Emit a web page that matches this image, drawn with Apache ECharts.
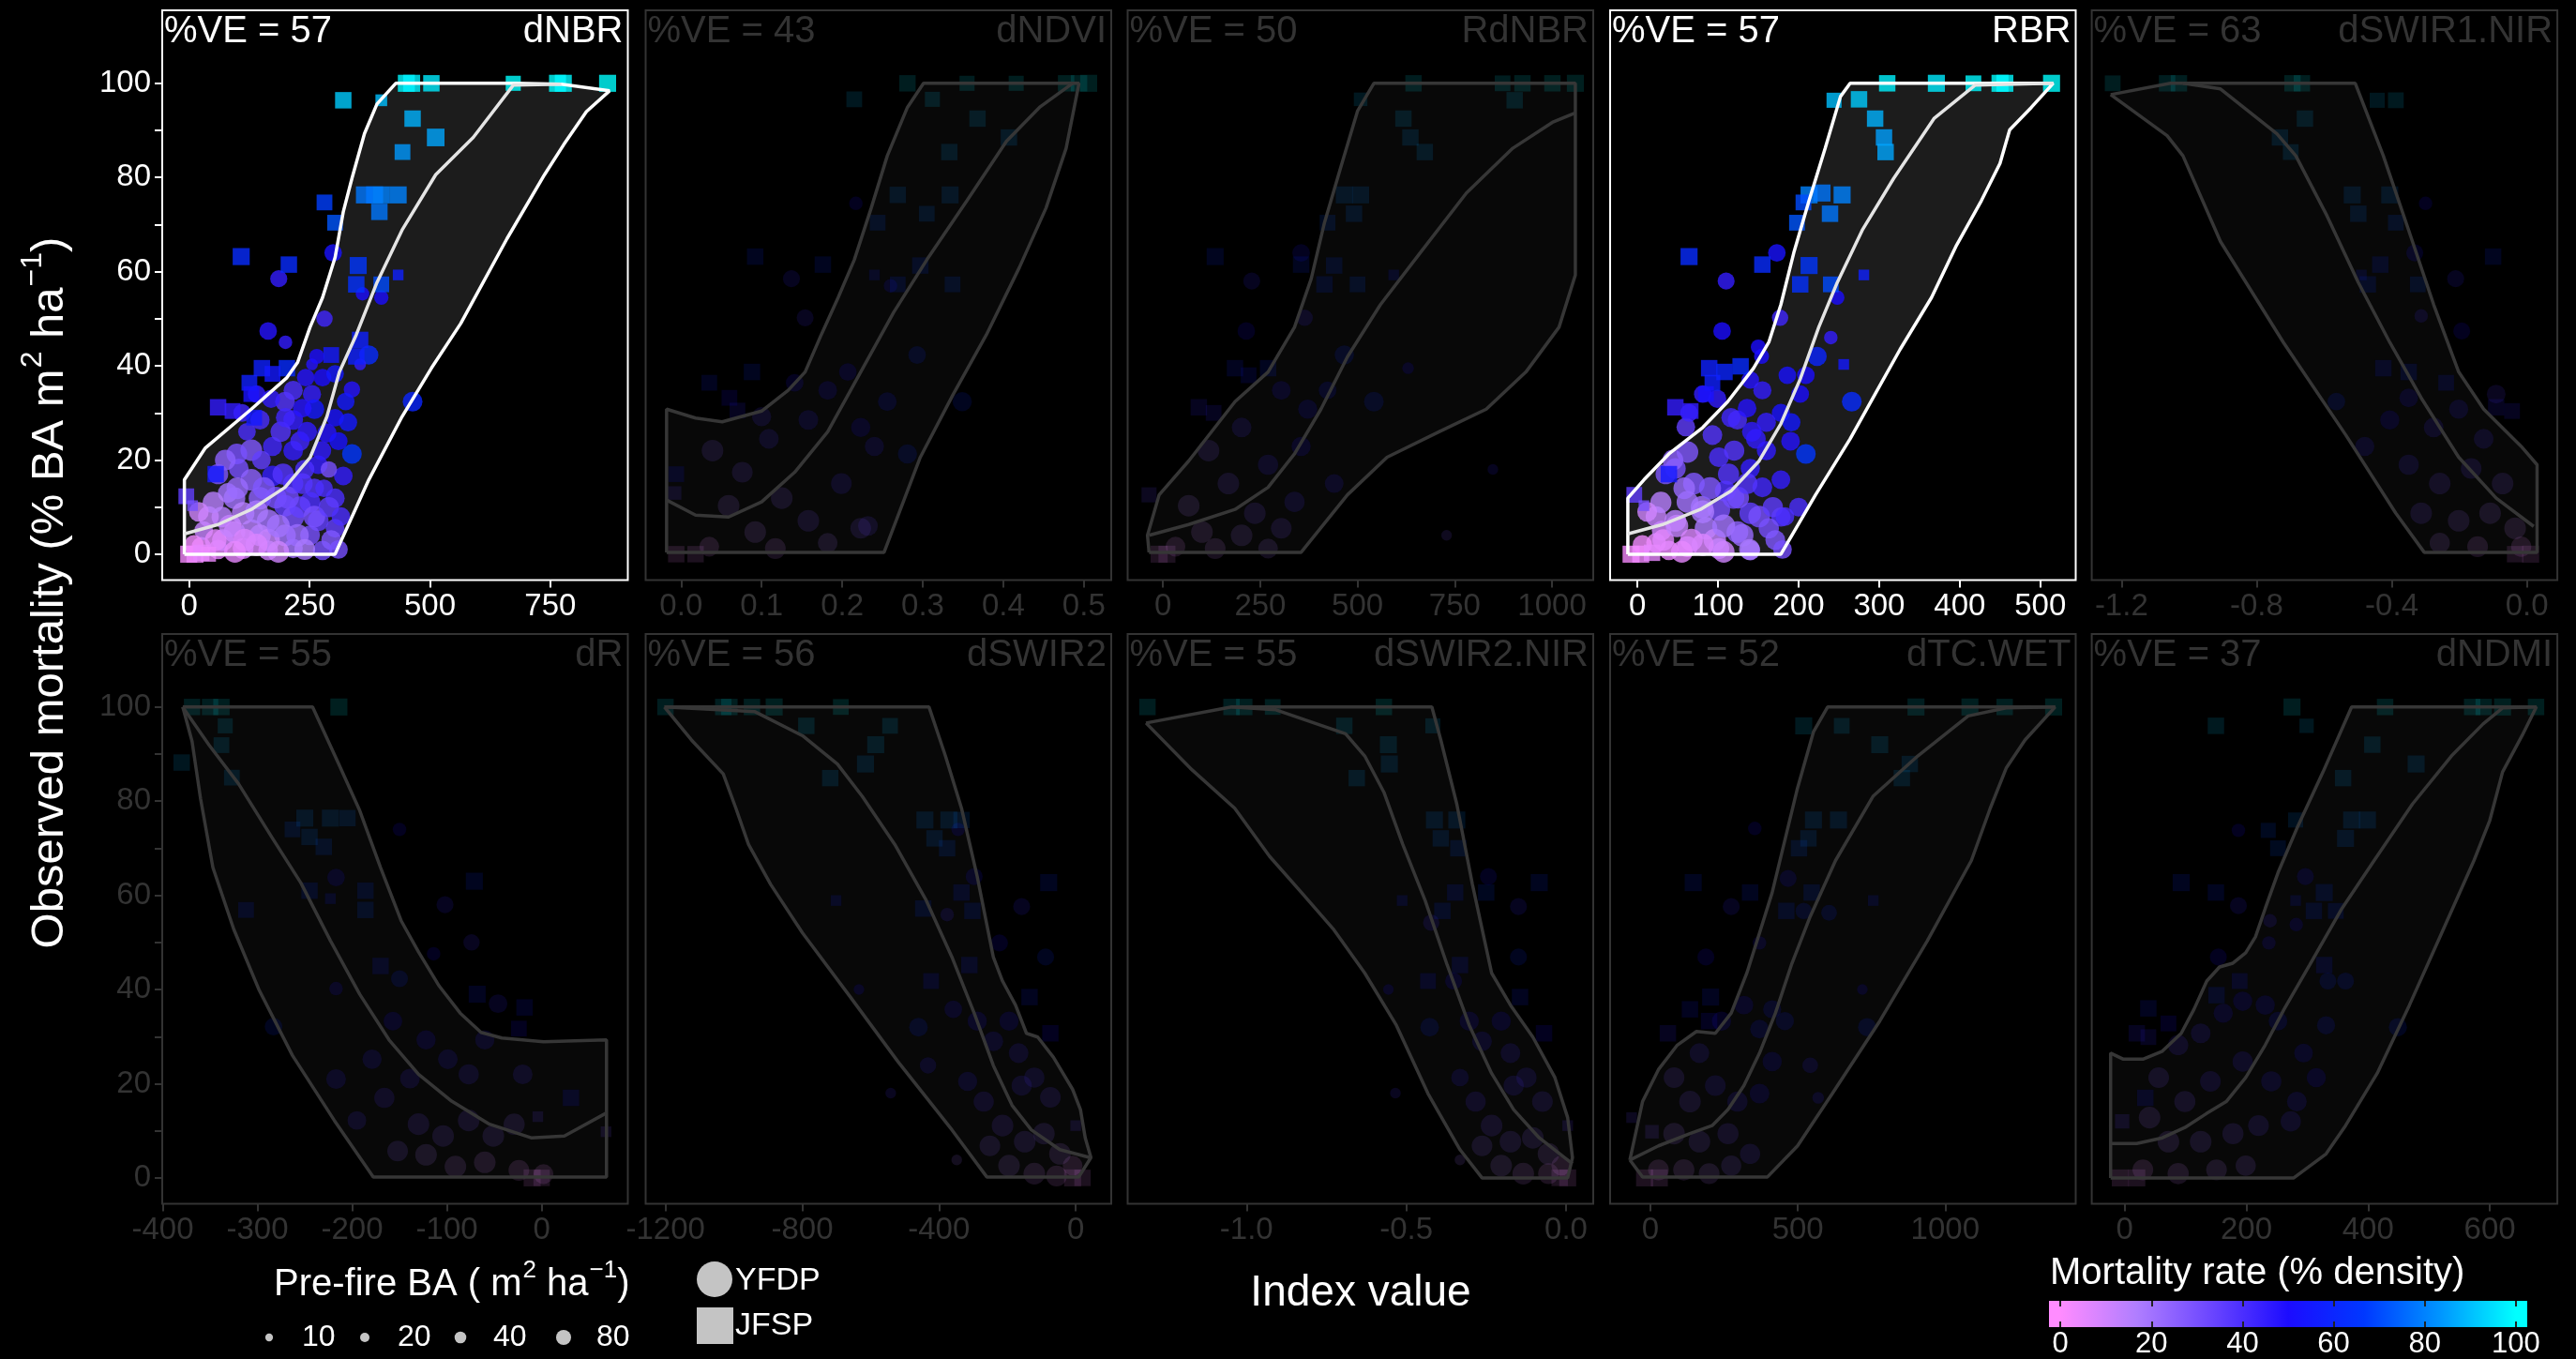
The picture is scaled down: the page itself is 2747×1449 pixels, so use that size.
<!DOCTYPE html>
<html><head><meta charset="utf-8">
<script src="https://cdn.jsdelivr.net/npm/echarts@6/dist/echarts.min.js"></script>
<style>html,body{margin:0;padding:0;background:#000;}#c{width:2747px;height:1449px;}</style>
</head><body><div id="c"></div><script>
// ---------------- DATA ----------------
const indexNames = ['dNBR','dNDVI','RdNBR','RBR','dSWIR1.NIR','dR','dSWIR2','dSWIR2.NIR','dTC.WET','dNDMI'];
const veValues = [57,43,50,57,63,55,56,55,52,37];
const highlighted = ['dNBR','RBR'];
const xRanges = [[-56,911],[-0.044,0.534],[-91,1106],[-34,544],[-1.288,0.090],[-400.5,91],[-1258,104],[-1.372,0.085],[-137,1443],[-54,711]];
const xTicks = [[0,250,500,750],[0,0.1,0.2,0.3,0.4,0.5],[0,250,500,750,1000],[0,100,200,300,400,500],[-1.2,-0.8,-0.4,0],[-400,-300,-200,-100,0],[-1200,-800,-400,0],[-1,-0.5,0],[0,500,1000],[0,200,400,600]];
const xDecimals = [0,1,0,0,1,0,0,1,0,0];
const yRange = [-5.5,115.5];
const yTicks = [0,10,20,30,40,50,60,70,80,90,100];
const yLabels = [0,20,40,60,80,100];
const sizeBreaks = [10,20,40,80];
const colorTicks = [0,20,40,60,80,100];
const colorRange = [0,100];
const palette = ['#ff8cff','#b07eff','#6a45ff','#1c0cff','#0038ff','#0095ff','#00ffff'];

// points: [index value, observed mortality %, mortality rate % density, pre-fire BA]
const dNBR_band = [[-10,0],[-10,15.8],[33,22.5],[129,30.8],[203,37.5],[225,40.7],[251,48.2],[277,54.5],[303,63],[320,72.7],[338,79.8],[364,89.3],[390,95.6],[429,100],[677,100],[773,99.8],[873,98.4],[825,94],[778,87],[738,80.6],[660,67],[564,49],[503,39.5],[442,29.2],[373,15.8],[303,0]];
const dNBR_fit = [[-10,4.3],[60,6.3],[129,9.5],[199,14.2],[251,20.5],[286,29.2],[312,38.7],[347,46.6],[390,57.7],[442,68.8],[512,80.6],[590,88.5],[673,99.6],[773,99.8]];
const dNBR_jfsp = [[451,100,99,110],[462,100,98,110],[503,100,97,100],[673,100,100,80],[765,100,100,110],[777,100,99,110],[869,100,100,110],[320,96.4,92,100],[399,96.4,90,40],[464,92.5,88,100],[512,88.5,86,120],[443,85.4,84,90],[364,76.3,78,110],[385,76.3,78,110],[399,76.3,80,110],[434,76.3,80,110],[395,72.7,78,100],[281,74.7,68,90],[303,70.4,72,90],[108,63.2,62,110],[207,61.5,62,100],[351,61.3,66,110],[347,57.3,64,100],[399,57.3,70,90],[434,59.3,58,30],[355,45.5,58,100],[347,42,58,100],[295,42.3,55,90],[151,39.5,58,100],[203,39.5,62,100],[173,38.3,55,90],[125,36.4,58,90],[60,31.2,45,100],[90,30.4,45,90],[129,34,52,90],[135,29,55,90],[55,17,55,100],[-6,12.3,35,90],[7,10.3,30,30],[-1,0,2,110],[12,0,3,110],[25,0.3,5,100],[40,0,4,80]];
const dNBR_yfdp = [[299,64,52,120],[186,58.5,45,110],[281,50,42,100],[164,47.4,48,120],[360,55.3,50,60],[399,54.5,50,70],[373,42.3,62,150],[355,40.3,45,40],[255,40.3,48,40],[464,32.4,60,160],[242,37.5,48,120],[277,37.5,50,120],[303,38.3,55,120],[216,34.8,40,150],[255,34,45,130],[338,35,48,100],[325,32.4,55,120],[199,32.4,38,160],[260,30.8,55,160],[303,29,52,120],[216,28.5,45,160],[147,28.5,40,150],[286,25.7,48,150],[338,21.3,66,160],[129,22.1,28,200],[99,21.3,30,180],[173,22.9,42,150],[216,22,45,160],[268,19,45,140],[320,16.6,45,140],[290,18,30,100],[103,18.2,30,160],[129,15.8,25,200],[173,16.6,45,180],[216,15,40,170],[260,14,38,150],[94,11.9,20,200],[147,11.9,25,220],[199,10.3,35,200],[251,11,40,180],[303,11.9,40,150],[68,7.9,15,180],[112,8.7,15,220],[164,7.1,20,220],[216,7.9,30,200],[268,7.1,35,180],[303,5.5,35,140],[94,4.7,10,200],[147,4,15,200],[199,4,20,200],[251,4,30,160],[25,1.6,5,150],[60,1,5,150],[112,1.2,8,180],[164,0.8,10,160],[216,1.2,20,150],[277,0.8,30,150],[30,5,12,140],[80,13,20,160],[190,26,38,170],[230,24,42,150],[240,18,40,150],[150,20,35,140],[120,26,40,120],[180,12,30,200],[230,10,35,200],[70,3,10,200],[130,5,15,220],[280,14,40,120],[310,24,52,130],[200,45,45,60],[40,8,12,180],[55,3,6,200],[85,6,12,220],[100,14,22,200],[115,3,8,220],[140,9,18,230],[155,14,28,210],[165,3,12,220],[185,6,20,230],[195,17,38,190],[205,12,32,210],[225,4,22,220],[235,15,38,180],[245,26,46,160],[260,8,30,200],[275,22,46,150],[290,10,36,170],[295,3,28,160],[315,8,40,140],[330,28,55,130],[200,29,42,150],[170,33,45,130],[235,31,48,140],[265,42,50,80],[140,34,45,120],[110,30,42,120],[75,20,25,180],[50,11,15,190],[20,9,10,160],[10,2,3,150],[95,0.5,5,200],[140,2,8,210],[185,0.5,10,200],[240,1,18,180],[310,1,30,140],[60,17,28,170]];

const dNDVI_band = [[-0.018,0.4],[-0.018,30.8],[0.018,28.9],[0.051,28.1],[0.1,30.4],[0.133,34.8],[0.154,38.7],[0.174,46.6],[0.195,54.5],[0.215,62.5],[0.236,73.5],[0.256,84.6],[0.281,94.9],[0.301,100],[0.494,100],[0.478,86.2],[0.453,73.5],[0.42,60.9],[0.379,46.6],[0.338,34],[0.297,20.6],[0.252,0.4]];
const dNDVI_fit = [[-0.018,11.5],[0.018,8.3],[0.059,7.9],[0.1,11.1],[0.141,17.4],[0.182,26],[0.223,38.7],[0.264,51.4],[0.305,62.5],[0.355,75.1],[0.404,87.7],[0.445,94.9],[0.486,100]];
const dNDVI_jfsp = [[0.281,100,98,100],[0.355,100,98,80],[0.416,100,99,80],[0.478,100,100,100],[0.494,100,99,100],[0.506,100,100,110],[0.215,96.6,90,90],[0.312,96.6,92,80],[0.368,92.5,88,100],[0.407,88.5,85,100],[0.333,85.4,86,100],[0.269,76.3,80,100],[0.334,76.3,80,110],[0.244,70.4,72,90],[0.305,72.3,78,90],[0.092,63.2,62,100],[0.176,61.5,62,100],[0.297,61.3,66,100],[0.337,57.3,70,90],[0.269,57.3,64,90],[0.24,59.3,58,30],[0.035,36.4,58,90],[0.088,38.7,60,100],[0.06,33.2,50,90],[0.07,30.5,45,90],[-0.006,17,55,90],[-0.008,13,35,60],[-0.006,0,2,100],[0.018,0,3,100]];
const dNDVI_yfdp = [[0.217,74.5,50,60],[0.137,58.5,45,110],[0.154,50.2,42,110],[0.293,42.3,62,120],[0.349,32.4,62,150],[0.26,57,52,60],[0.039,22,28,200],[0.076,17.4,30,180],[0.109,24.5,40,160],[0.158,28.5,45,160],[0.182,34.8,48,140],[0.223,26.9,50,150],[0.256,32.4,55,140],[0.24,22.9,45,150],[0.199,15,40,180],[0.125,11.9,25,200],[0.059,10.3,20,200],[0.158,7.1,30,200],[0.092,4.7,15,200],[0.223,5.5,30,180],[0.035,1.6,5,160],[0.117,1.2,10,180],[0.182,2.4,20,160],[0.232,6,35,160],[0.281,21.3,60,150],[0.207,38.7,50,120],[0.141,36.4,48,120],[0.1,29.2,40,150]];

const RdNBR_band = [[-36,0.4],[-40,4],[-10,12.6],[66,19.8],[185,32.4],[270,38.7],[338,48.2],[381,58.5],[415,70.4],[457,82.2],[500,94.1],[542,100],[1060,100],[1060,59.3],[1018,48.2],[933,38.7],[831,30.8],[712,26.1],[576,20.6],[474,12.6],[355,0.4]];
const RdNBR_fit = [[-36,4],[66,6.3],[185,9.5],[270,14.2],[338,21.3],[406,30.8],[474,41.9],[559,53],[661,64],[780,76.7],[899,86.2],[1001,91.7],[1060,93.7]];
const RdNBR_jfsp = [[644,100,98,100],[873,100,98,90],[924,100,99,100],[1001,100,100,100],[1060,100,100,110],[508,96.6,90,60],[904,96.4,92,100],[618,92.5,88,100],[636,88.5,85,100],[673,85.4,86,100],[466,76.3,80,110],[508,76.3,80,110],[491,72.3,78,100],[423,70.4,72,90],[134,63.2,62,110],[355,61.5,62,100],[440,61.3,66,100],[415,57.3,64,100],[500,57.3,70,90],[593,59.3,58,30],[185,39.5,58,100],[270,39.5,62,100],[220,38,55,90],[92,31.2,45,100],[130,30,45,90],[-36,12.6,35,80],[-10,0,2,110],[10,0,3,110]];
const RdNBR_yfdp = [[355,64,52,120],[228,58,45,110],[214,47.4,50,120],[364,50.2,42,100],[466,42.3,62,150],[542,32.4,62,160],[630,39.5,50,40],[848,18,45,30],[729,4,30,30],[117,22,28,200],[202,26.9,40,160],[304,34.8,48,140],[372,30.8,52,150],[270,19,42,170],[168,15,30,200],[355,22.9,48,150],[66,10.3,18,200],[236,8.7,30,200],[338,11.1,40,170],[100,4.7,12,200],[202,4,20,200],[304,5.5,30,180],[32,1.6,5,160],[134,1.2,10,180],[270,1.2,20,160],[440,15,45,140],[423,34.8,55,120]];

const RBR_band = [[-12,0],[-12,11.9],[8,15.8],[39,21.3],[81,26.9],[112,32.4],[144,39.5],[163,45],[178,53],[194,64],[213,75.1],[233,86.2],[252,97.2],[264,100],[516,100],[489,94.9],[462,90.1],[450,83],[427,75.1],[396,65.6],[365,54.5],[326,43.5],[295,34],[264,24.5],[221,12.6],[178,0]];
const RBR_fit = [[-12,4.3],[31,6.3],[78,9.5],[116,13.4],[151,19.8],[178,27.7],[202,37.2],[225,48.2],[248,57.7],[279,68.8],[318,79.8],[368,92.5],[419,99.6],[516,100]];
const RBR_jfsp = [[310,100,98,100],[371,100,97,110],[417,100,99,90],[450,100,100,110],[456,100,99,110],[514,100,100,110],[244,96.4,90,80],[275,96.6,92,100],[295,92.5,88,100],[306,88.5,85,100],[308,85.4,86,100],[213,76.3,80,110],[229,76.7,78,110],[254,76.3,80,110],[239,72.3,78,100],[198,70.4,72,90],[206,74.7,70,90],[64,63.2,62,110],[155,61.5,62,100],[213,61.3,66,110],[202,57.3,64,100],[240,57.3,70,90],[281,59.3,58,30],[256,40.3,55,30],[89,39.5,58,100],[108,38.7,60,100],[128,39.9,62,100],[93,36.4,58,90],[47,31.2,45,100],[66,30.4,45,90],[85,34,52,90],[39,17,55,100],[-4,12.6,35,90],[8,10.3,30,30],[-8,0,2,110],[4,0,3,110],[18,0.3,5,100]];
const RBR_yfdp = [[173,64,52,120],[110,58,45,110],[105,47.4,50,120],[177,50.2,42,100],[248,54.5,50,70],[223,42,60,150],[209,38,50,120],[266,32.4,62,160],[140,37,48,120],[155,34.8,45,130],[186,38,52,120],[202,34,50,120],[124,28.5,40,150],[178,30,52,130],[93,25.3,38,160],[147,24.5,45,160],[209,21.3,66,160],[62,21.7,28,200],[101,20.6,40,160],[140,18.2,45,150],[178,15.8,45,140],[47,18.2,30,180],[70,15,28,200],[109,13.4,40,180],[155,14.2,42,160],[62,11.1,20,200],[101,9.5,30,220],[140,8.7,35,200],[178,7.9,38,150],[47,7.1,15,200],[85,5.5,18,220],[124,4.7,25,200],[163,5.5,30,170],[23,2.4,5,160],[62,1.6,8,180],[101,1.2,12,180],[140,0.8,20,160],[39,0.8,4,150],[30,5,10,160],[120,22,38,170],[160,28,45,150],[190,24,48,140],[80,10,20,220],[125,12,30,200],[200,10,40,140],[60,27,35,140],[240,46,45,60],[150,44,50,80],[23,8,12,180],[32,3,6,200],[49,6,12,220],[58,14,22,200],[67,3,8,220],[81,9,18,230],[90,14,28,210],[96,3,12,220],[107,6,20,230],[113,17,38,190],[119,12,32,210],[130,4,22,220],[136,15,38,180],[142,26,46,160],[151,8,30,200],[160,22,46,150],[168,10,36,170],[171,3,28,160],[183,8,40,140],[191,28,55,130],[116,29,42,150],[99,33,45,130],[136,31,48,140],[154,42,50,80],[81,34,45,120],[64,30,42,120],[44,20,25,180],[29,11,15,190],[12,9,10,160],[6,2,3,150],[55,0.5,5,200],[81,2,8,210],[107,0.5,10,200],[139,1,18,180],[180,1,30,140],[35,17,28,170]];

const dSWIR1NIR_band = [[-1.232,97.6],[-1.055,100],[-0.508,100],[-0.425,84.6],[-0.35,68.8],[-0.276,53],[-0.202,38.7],[-0.128,30.8],[-0.017,22.9],[0.03,19],[0.03,0.4],[-0.304,0.4],[-0.388,8.7],[-0.536,25.3],[-0.721,45],[-0.907,66.4],[-1.018,84.6],[-1.065,88.9]];
const dSWIR1NIR_fit = [[-1.018,100],[-0.907,98.8],[-0.74,89.3],[-0.684,84.6],[-0.592,71.9],[-0.499,57.7],[-0.406,45],[-0.313,33.2],[-0.202,20.6],[-0.091,11.9],[0.02,5.9]];
const dSWIR1NIR_jfsp = [[-1.226,100,98,90],[-1.065,100,98,100],[-1.03,100,99,100],[-0.694,100,100,100],[-0.666,100,99,100],[-0.443,96.4,90,80],[-0.388,96.4,92,90],[-0.657,92.5,88,100],[-0.731,88.5,85,100],[-0.699,85.4,86,90],[-0.517,76.3,80,110],[-0.406,76.3,80,110],[-0.499,72.3,78,100],[-0.388,70.4,72,90],[-0.1,63.2,62,100],[-0.434,61.5,62,100],[-0.471,57.3,64,100],[-0.323,57.3,70,90],[-0.49,59.3,58,30],[-0.425,39.5,58,100],[-0.35,38.7,60,100],[-0.239,36.4,58,90],[-0.091,31.2,45,100],[-0.044,30.4,45,90],[0.011,0,2,110],[-0.035,0,3,100]];
const dSWIR1NIR_yfdp = [[-0.3,74.5,50,60],[-0.332,64,52,110],[-0.211,58.5,45,110],[-0.313,50.6,42,60],[-0.193,47.4,50,110],[-0.564,32.4,62,120],[-0.35,33.2,48,140],[-0.276,26.9,42,160],[-0.202,30.8,45,150],[-0.128,24.5,40,160],[-0.35,19,40,170],[-0.258,15,32,200],[-0.165,18.2,35,180],[-0.072,15,28,200],[-0.313,8.7,30,200],[-0.202,7.1,22,200],[-0.109,8.7,20,200],[-0.035,5.5,12,200],[-0.258,2.4,15,170],[-0.146,1.6,8,180],[-0.017,1.6,4,170],[-0.406,28.5,50,150],[-0.48,22.9,45,150],[-0.091,34,38,140]];

const dR_band = [[-378.8,100],[-241.8,100],[-214,87.8],[-192,78],[-170,65.9],[-148,54.5],[-130,48],[-108,40.7],[-86,35],[-64,30.9],[-42,29.7],[2,28.9],[68.5,29.3],[68.5,0.2],[-177.7,0.2],[-218.8,12.2],[-263,26],[-298,39.8],[-325,52.8],[-347,65.9],[-360,80.5],[-369,92.7]];
const dR_fit = [[-379,100],[-351,91.9],[-320,83.7],[-285,72.4],[-254,62.6],[-223,50.4],[-192,39],[-161,29.3],[-130,22],[-95,16.3],[-55,11.4],[-11,8.5],[24,8.9],[68.5,13.8]];
const dR_jfsp = [[-369,100,98,100],[-350,100,98,100],[-338,100,99,100],[-214,100,100,110],[-334,96,92,80],[-338,91.9,90,90],[-380,88.2,88,100],[-327,85,86,90],[-250,76.4,80,110],[-223,76.4,80,110],[-205,76.4,78,100],[-263,74,72,90],[-245,72.4,78,100],[-230,70.3,72,100],[-71,63,62,110],[-186,61,66,100],[-245,61,64,100],[-186,56.9,70,100],[-312,56.9,60,90],[-223,59.3,58,30],[-170,45,58,100],[-68,39,58,110],[-18,36.2,55,100],[-24,31.7,50,90],[31,17,55,100],[-4,13,35,30],[68,9.8,30,30],[-10,0,2,110],[0,0,3,100]];
const dR_yfdp = [[-150,74,50,60],[-217,63.8,52,120],[-102,58,45,110],[-74,50,42,100],[-114,47.6,50,60],[-150,42.3,60,110],[-217,40.2,48,60],[-283,32.1,62,120],[-217,21,45,160],[-195,12.2,40,140],[-20,22,40,160],[-46,37,45,140],[-166,17,38,170],[-139,21.1,42,160],[-122,29.3,48,150],[-99,25.2,45,160],[-77,22,40,170],[-60,29.3,45,150],[-130,11.4,32,200],[-104,8.9,28,200],[-77,12.2,30,200],[-51,8.9,25,200],[-29,11.4,25,190],[-122,4.9,18,200],[-91,2.4,12,200],[-60,3.3,10,200],[-24,1.6,5,180],[2,0.8,3,160],[-152,5.7,25,180],[-157,33.3,50,140],[-179,25.2,45,150]];

const dSWIR2_band = [[-1203,100],[-429,100],[-381,89.6],[-334,78.5],[-288,64],[-241,46.9],[-214,41.8],[-176,36.7],[-144,30.7],[-111,29.9],[-65,25.6],[-9,18.8],[14,14.5],[28,8.5],[44.6,4.3],[9,0.2],[-260,0.2],[-362,10.2],[-520,24.7],[-659,38.4],[-799,52],[-892,62.3],[-957,70.8],[-994,78.5],[-1031,85.8],[-1124,93]];
const dSWIR2_fit = [[-1203,100],[-938,99],[-799,93.9],[-697,87.9],[-624,81],[-529,70.8],[-437,58.9],[-362,46.9],[-297,35],[-241,23.9],[-186,15.4],[-130,10.2],[-46.5,6],[42,4.3]];
const dSWIR2_jfsp = [[-1200,100,98,100],[-1031,100,98,100],[-1013,100,99,100],[-947,100,99,100],[-882,100,100,110],[-687,100,100,90],[-788,96,92,100],[-543,96,90,90],[-585,92,88,110],[-615,87.9,85,110],[-718,84.9,86,100],[-441,76,80,110],[-371,76,80,110],[-334,76,78,100],[-413,72.1,78,100],[-376,70,72,100],[-79,62.7,62,110],[-334,60.6,62,100],[-446,57.2,66,100],[-302,56.7,64,100],[-701,58.9,58,30],[-311,45.2,58,100],[-423,41.8,55,90],[-135,38.4,58,100],[-74,30.7,50,100],[0,11.1,35,30],[-9,0,2,110],[20,0,3,100]];
const dSWIR2_yfdp = [[-344,74,50,60],[-297,64,52,110],[-158,57.6,45,110],[-376,55.9,42,60],[-223,49.9,50,110],[-88,46.9,60,110],[-358,35.8,48,120],[-460,32,62,140],[-432,23.9,45,100],[-634,40,50,30],[-541,18,40,30],[-348,3.8,20,30],[-288,33.3,48,150],[-241,29,45,160],[-195,33.3,50,150],[-167,26.5,42,160],[-121,21.3,40,170],[-74,17.1,35,180],[-269,16.2,38,170],[-214,11.1,32,200],[-149,7.7,28,200],[-93,9.4,25,200],[-46,5.1,15,200],[-251,6.8,25,180],[-195,2.6,18,200],[-121,0.9,10,200],[-56,0.4,5,180],[-9,2.6,3,160],[-158,19.6,40,170],[-316,20.5,45,150]];

const dSWIR2NIR_band = [[-1.3145,96.6],[-1.047,100],[-0.42,100],[-0.392,93],[-0.342,79.4],[-0.293,62.3],[-0.233,43.5],[-0.174,36.7],[-0.104,29.9],[-0.035,21.3],[0.005,12.8],[0.02,4.3],[0.005,0],[-0.263,0],[-0.332,6],[-0.432,17.9],[-0.531,32.4],[-0.63,43.5],[-0.729,52.9],[-0.828,60.6],[-0.928,68.3],[-1.037,78.5],[-1.176,87]];
const dSWIR2NIR_fit = [[-1.047,100],[-0.908,99.4],[-0.69,94.3],[-0.63,89.6],[-0.57,81.9],[-0.511,70.8],[-0.441,58.9],[-0.372,45.2],[-0.303,32.4],[-0.233,22.2],[-0.164,14.5],[-0.084,8.5],[0.02,3]];
const dSWIR2NIR_jfsp = [[-1.31,100,98,100],[-1.047,100,98,100],[-1.007,100,99,100],[-0.918,100,99,90],[-0.57,100,100,100],[-0.694,96,92,100],[-0.417,96,90,80],[-0.556,92,88,110],[-0.553,87.9,85,110],[-0.655,84.9,86,100],[-0.412,76,80,110],[-0.342,76,80,110],[-0.392,72.1,78,100],[-0.337,70,72,100],[-0.084,62.7,62,110],[-0.347,60.6,62,100],[-0.387,56.7,64,100],[-0.25,60.6,66,100],[-0.513,58.9,58,30],[-0.332,45.2,58,100],[-0.432,41.8,55,90],[-0.144,38.4,58,100],[-0.069,30.7,50,100],[0.005,11.1,35,30],[0.005,0,2,110],[-0.02,0,3,100]];
const dSWIR2NIR_yfdp = [[-0.243,64,52,110],[-0.149,57.6,45,110],[-0.422,54.2,42,100],[-0.149,46.9,60,110],[-0.352,41.8,50,110],[-0.427,32,62,140],[-0.332,21.3,45,120],[-0.556,40,50,30],[-0.534,18,40,30],[-0.332,3.8,20,30],[-0.303,33.3,48,150],[-0.263,29,45,160],[-0.203,33.3,50,150],[-0.174,26.5,42,160],[-0.124,21.3,40,170],[-0.074,16.2,35,180],[-0.283,16.2,38,170],[-0.233,11.1,32,200],[-0.174,7.7,28,200],[-0.104,8.5,25,200],[-0.055,5.1,15,200],[-0.263,6.8,25,180],[-0.203,2.6,18,200],[-0.134,0.9,10,200],[-0.055,0.9,5,180],[-0.015,2.6,3,160],[-0.164,19.6,40,170]];

const dTCWET_band = [[-70,3.8],[-27,16.2],[27,23],[91,28.2],[156,31.1],[220,30.7],[274,35],[327,43.5],[370,52],[413,60.6],[456,71.7],[499,82.8],[553,94.7],[601,100],[1373,100],[1271,93],[1207,87],[1153,78.5],[1089,67.4],[939,50.3],[778,33.3],[617,17.9],[499,6.8],[397,0.2],[-27,0.2]];
const dTCWET_fit = [[-70,3.8],[27,6.8],[134,9.4],[209,11.1],[263,14.5],[317,19.6],[370,26.5],[424,35],[478,45.2],[542,55.5],[628,67.4],[756,81.1],[907,89.6],[1078,98.1],[1207,99.8],[1373,100]];
const dTCWET_jfsp = [[901,100,98,110],[1084,100,99,110],[1202,100,99,100],[1368,100,100,110],[520,96,92,110],[649,96,90,90],[778,92,88,110],[880,87.9,85,100],[853,84.9,86,100],[553,76,80,110],[638,76,80,110],[536,72.1,78,100],[504,70,72,100],[145,62.7,62,110],[338,60.6,62,100],[547,60.6,66,100],[461,56.7,64,100],[756,58.9,58,30],[204,38.4,58,110],[134,35.8,55,100],[59,30.7,45,100],[199,33.3,52,100],[-64,12.8,35,30],[5,9.8,30,60],[-20,0,2,110],[30,0,3,110]];
const dTCWET_yfdp = [[354,74.2,50,60],[467,63.6,52,110],[274,57.6,45,110],[520,56.7,60,100],[606,56.3,62,90],[188,46.9,50,110],[370,49.9,48,60],[735,32,62,130],[569,17,45,40],[542,23.9,45,90],[719,40,50,30],[80,21.3,30,180],[166,26.5,40,160],[241,33.3,48,150],[317,36.7,50,140],[370,31.6,55,140],[413,24.7,52,150],[134,16.2,30,200],[220,19.6,40,180],[295,16.2,42,170],[370,17.9,48,160],[80,9.4,20,200],[166,7.7,25,200],[263,9.4,32,190],[338,5.1,35,170],[27,1.7,5,180],[113,1.7,10,190],[199,0.9,15,180],[274,2.6,25,170],[413,35.8,55,130],[456,33.3,58,130]];

const dNDMI_band = [[-23,0],[-23,26.5],[-2,25.2],[30,25.2],[62,26.9],[93,30.7],[114,35.8],[135,41.8],[156,44.8],[178,45.6],[199,47.8],[215,51.2],[231,57.2],[252,64.8],[283,74.2],[326,86.2],[373,100],[676.5,100],[653,93.9],[621,86.2],[600,75.9],[574,67.4],[521,52],[468,36.7],[415,22.2],[363,11.1],[331,5.1],[278,0]];
const dNDMI_fit = [[-23,7.3],[20,7.3],[62,8.5],[99,10.7],[135,13.7],[167,16.2],[199,21.3],[231,28.2],[262,35.8],[304,45.2],[357,57.2],[410,67.4],[473,79.4],[537,89.6],[589,96.4],[621,99.8],[676,100]];
const dNDMI_jfsp = [[275,100,98,110],[428,100,99,100],[571,100,99,100],[590,100,99,100],[621,100,100,110],[676,100,100,100],[150,96,92,100],[299,96,90,70],[407,92,88,100],[479,87.9,85,110],[359,84.9,86,100],[281,76,80,80],[373,76,80,110],[399,76,80,110],[363,72.1,78,110],[252,70,72,90],[93,62.7,62,110],[150,60.6,62,100],[328,60.6,66,110],[236,73.8,70,80],[311,56.7,64,100],[347,56.7,64,90],[281,58.9,58,30],[328,45.2,58,100],[189,41.8,55,90],[39,36,58,100],[151,38.8,60,100],[72,32.8,50,90],[20,30.7,45,100],[39,29.9,45,90],[34,17,55,100],[-4,12,35,70],[-7,0,2,110],[20,0,3,110]];
const dNDMI_yfdp = [[187,73.8,50,60],[297,64,52,110],[187,57.8,45,110],[239,54.6,42,60],[282,53.8,50,60],[237,49.9,48,60],[154,46.9,50,110],[363,41.8,60,110],[334,41.8,62,110],[449,32,62,130],[56,21.3,30,180],[88,28.2,38,170],[125,30.7,42,160],[162,35,48,150],[194,37.5,50,150],[231,36.7,52,150],[252,33.3,55,140],[294,26.5,52,140],[315,21.3,50,150],[283,16.2,45,160],[241,20.5,45,170],[194,24.7,42,170],[141,20.5,38,180],[99,16.2,30,190],[41,12.8,22,200],[72,7.7,20,200],[125,7.7,25,200],[178,9.4,30,190],[220,11.1,35,180],[273,12,40,170],[30,1.7,5,180],[88,0.9,10,190],[151,1.7,15,180],[199,2.6,22,170],[331,32.4,58,130]];

const bands = [dNBR_band,dNDVI_band,RdNBR_band,RBR_band,dSWIR1NIR_band,dR_band,dSWIR2_band,dSWIR2NIR_band,dTCWET_band,dNDMI_band];
const fits = [dNBR_fit,dNDVI_fit,RdNBR_fit,RBR_fit,dSWIR1NIR_fit,dR_fit,dSWIR2_fit,dSWIR2NIR_fit,dTCWET_fit,dNDMI_fit];
const yfdp = [dNBR_yfdp,dNDVI_yfdp,RdNBR_yfdp,RBR_yfdp,dSWIR1NIR_yfdp,dR_yfdp,dSWIR2_yfdp,dSWIR2NIR_yfdp,dTCWET_yfdp,dNDMI_yfdp];
const jfsp = [dNBR_jfsp,dNDVI_jfsp,RdNBR_jfsp,RBR_jfsp,dSWIR1NIR_jfsp,dR_jfsp,dSWIR2_jfsp,dSWIR2NIR_jfsp,dTCWET_jfsp,dNDMI_jfsp];

// ---------------- LAYOUT / STYLE ----------------
const FONT = '"Liberation Sans", Arial, sans-serif';
const colLeft = [173, 688.5, 1202.5, 1717, 2230.6];
const rowTop = [11, 676];
const PW = 496.5, PH = 607.5;
const sizeOf = ba => 4 + 1.35 * Math.sqrt(ba);

const grids = [], xAxes = [], yAxes = [], series = [], graphics = [], scatterIdx = [];
indexNames.forEach((name, i) => {
  const r = Math.floor(i / 5), c = i % 5;
  const hl = highlighted.includes(name);
  const fg = hl ? '#ffffff' : '#333333';
  const left = colLeft[c], top = rowTop[r];
  grids.push({left, top, width: PW, height: PH, show: true, borderColor: fg, borderWidth: 2, backgroundColor: 'rgba(0,0,0,0)'});
  const dec = xDecimals[i];
  xAxes.push({type: 'value', gridIndex: i, min: xRanges[i][0], max: xRanges[i][1], position: 'bottom',
    axisLine: {show: false, onZero: false}, splitLine: {show: false},
    axisTick: {show: true, length: 8, customValues: xTicks[i], lineStyle: {color: fg, width: 2}},
    axisLabel: {customValues: xTicks[i], formatter: v => (+v).toFixed(dec), color: fg, fontSize: 33, fontFamily: FONT, margin: 12}});
  yAxes.push({type: 'value', gridIndex: i, min: yRange[0], max: yRange[1], position: 'left',
    axisLine: {show: false, onZero: false}, splitLine: {show: false},
    axisTick: {show: c === 0, length: 8, customValues: yTicks, lineStyle: {color: fg, width: 2}},
    axisLabel: {show: c === 0, customValues: yLabels, color: fg, fontSize: 33, fontFamily: FONT, margin: 12}});
  const band = bands[i];
  series.push({type: 'custom', xAxisIndex: i, yAxisIndex: i, data: band, silent: true, z: 1,
    renderItem: (params, api) => {
      if (params.dataIndex !== 0) return null;
      return {type: 'polygon', shape: {points: band.map(p => api.coord(p))}, style: {fill: hl ? '#1c1c1c' : '#080808'}};
    }});
  const op = hl ? 0.8 : 0.12;
  scatterIdx.push(series.length);
  series.push({type: 'scatter', xAxisIndex: i, yAxisIndex: i, data: yfdp[i], symbol: 'circle',
    symbolSize: v => sizeOf(v[3]), itemStyle: {opacity: op}, silent: true, z: 3});
  scatterIdx.push(series.length);
  series.push({type: 'scatter', xAxisIndex: i, yAxisIndex: i, data: jfsp[i], symbol: 'rect',
    symbolSize: v => sizeOf(v[3]), itemStyle: {opacity: op}, silent: true, z: 3});
  series.push({type: 'line', xAxisIndex: i, yAxisIndex: i, data: band.concat([band[0]]), symbol: 'none', silent: true, z: 5,
    lineStyle: {color: hl ? '#ffffff' : '#363636', width: 3.5}});
  series.push({type: 'line', xAxisIndex: i, yAxisIndex: i, data: fits[i], symbol: 'none', silent: true, z: 5,
    lineStyle: {color: hl ? '#e4e4e4' : '#363636', width: 3.5}});
  graphics.push({type: 'text', x: left + 2, y: top + 23, silent: true,
    style: {text: '%VE = ' + veValues[i], fill: fg, fontSize: 40, fontFamily: FONT, align: 'left', verticalAlign: 'middle'}});
  graphics.push({type: 'text', x: left + PW - 5, y: top + 23, silent: true,
    style: {text: name, fill: fg, fontSize: 40, fontFamily: FONT, align: 'right', verticalAlign: 'middle'}});
});

// colour bar
const cbMin = -2.5, cbMax = 102.5;
const cbStops = [{offset: 0, color: palette[0]}];
palette.forEach((col, k) => {
  const v = colorRange[0] + k / (palette.length - 1) * (colorRange[1] - colorRange[0]);
  cbStops.push({offset: (v - cbMin) / (cbMax - cbMin), color: col});
});
cbStops.push({offset: 1, color: palette[palette.length - 1]});
const cbGrid = grids.length;
grids.push({left: 2185, top: 1387, width: 510, height: 29});
xAxes.push({type: 'value', gridIndex: cbGrid, min: cbMin, max: cbMax, position: 'bottom', z: 5,
  axisLine: {show: false, onZero: false}, splitLine: {show: false},
  axisTick: {inside: true, length: 6, customValues: colorTicks, lineStyle: {color: '#222', width: 2}},
  axisLabel: {customValues: colorTicks, color: '#ffffff', fontSize: 31, fontFamily: FONT, margin: 3}});
xAxes.push({type: 'value', gridIndex: cbGrid, min: cbMin, max: cbMax, position: 'top', z: 5,
  axisLine: {show: false, onZero: false}, splitLine: {show: false},
  axisTick: {inside: true, length: 6, customValues: colorTicks, lineStyle: {color: '#222', width: 2}},
  axisLabel: {show: false}});
yAxes.push({type: 'value', gridIndex: cbGrid, min: 0, max: 1, show: false});
series.push({type: 'custom', xAxisIndex: cbGrid, yAxisIndex: cbGrid, data: [[0, 0]], silent: true, z: 1,
  renderItem: (params, api) => {
    const cs = params.coordSys;
    return {type: 'rect', shape: {x: cs.x, y: cs.y, width: cs.width, height: cs.height},
      style: {fill: new echarts.graphic.LinearGradient(0, 0, 1, 0, cbStops)}};
  }});

// titles & legends
const supRich = (fs) => ({a: {fontSize: fs, fontFamily: FONT, fill: '#fff', lineHeight: fs * 1.2, verticalAlign: 'bottom'},
  s: {fontSize: Math.round(fs * 0.65), fontFamily: FONT, fill: '#fff', lineHeight: fs * 1.2, verticalAlign: 'top', padding: [0, 0, 0, 1]}});
graphics.push({type: 'text', x: 49, y: 632, rotation: Math.PI / 2, silent: true,
  style: {text: '{a|Observed mortality (% BA m}{s|2}{a| ha}{s|−1}{a|)}', rich: supRich(49), align: 'center', verticalAlign: 'middle'}});
graphics.push({type: 'text', x: 1451, y: 1379, silent: true,
  style: {text: 'Index value', fill: '#fff', fontSize: 46, fontFamily: FONT, align: 'center', verticalAlign: 'middle'}});
graphics.push({type: 'text', x: 292, y: 1366, silent: true,
  style: {text: '{a|Pre-fire BA ( m}{s|2}{a| ha}{s|−1}{a|)}', rich: supRich(40), align: 'left', verticalAlign: 'middle'}});
const sizeDotX = [287, 389, 491, 601];
sizeBreaks.forEach((b, k) => {
  graphics.push({type: 'circle', silent: true, shape: {cx: sizeDotX[k], cy: 1426, r: sizeOf(b) / 2}, style: {fill: '#c4c4c4'}});
  graphics.push({type: 'text', x: sizeDotX[k] + 35, y: 1426, silent: true,
    style: {text: String(b), fill: '#fff', fontSize: 32, fontFamily: FONT, align: 'left', verticalAlign: 'middle'}});
});
graphics.push({type: 'circle', silent: true, shape: {cx: 762, cy: 1364, r: 19}, style: {fill: '#c4c4c4'}});
graphics.push({type: 'rect', silent: true, shape: {x: 743, y: 1394, width: 39, height: 39}, style: {fill: '#c4c4c4'}});
graphics.push({type: 'text', x: 784, y: 1366, silent: true,
  style: {text: 'YFDP', fill: '#fff', fontSize: 34, fontFamily: FONT, align: 'left', verticalAlign: 'middle'}});
graphics.push({type: 'text', x: 784, y: 1414, silent: true,
  style: {text: 'JFSP', fill: '#fff', fontSize: 34, fontFamily: FONT, align: 'left', verticalAlign: 'middle'}});
graphics.push({type: 'text', x: 2186, y: 1358, silent: true,
  style: {text: 'Mortality rate (% density)', fill: '#fff', fontSize: 40, fontFamily: FONT, align: 'left', verticalAlign: 'middle'}});

const chart = echarts.init(document.getElementById('c'), null, {renderer: 'canvas'});
chart.setOption({
  backgroundColor: '#000000',
  animation: false,
  grid: grids, xAxis: xAxes, yAxis: yAxes,
  visualMap: [{type: 'continuous', show: false, min: colorRange[0], max: colorRange[1], dimension: 2,
    seriesIndex: scatterIdx, inRange: {color: palette}}],
  series: series,
  graphic: graphics
});
</script></body></html>
